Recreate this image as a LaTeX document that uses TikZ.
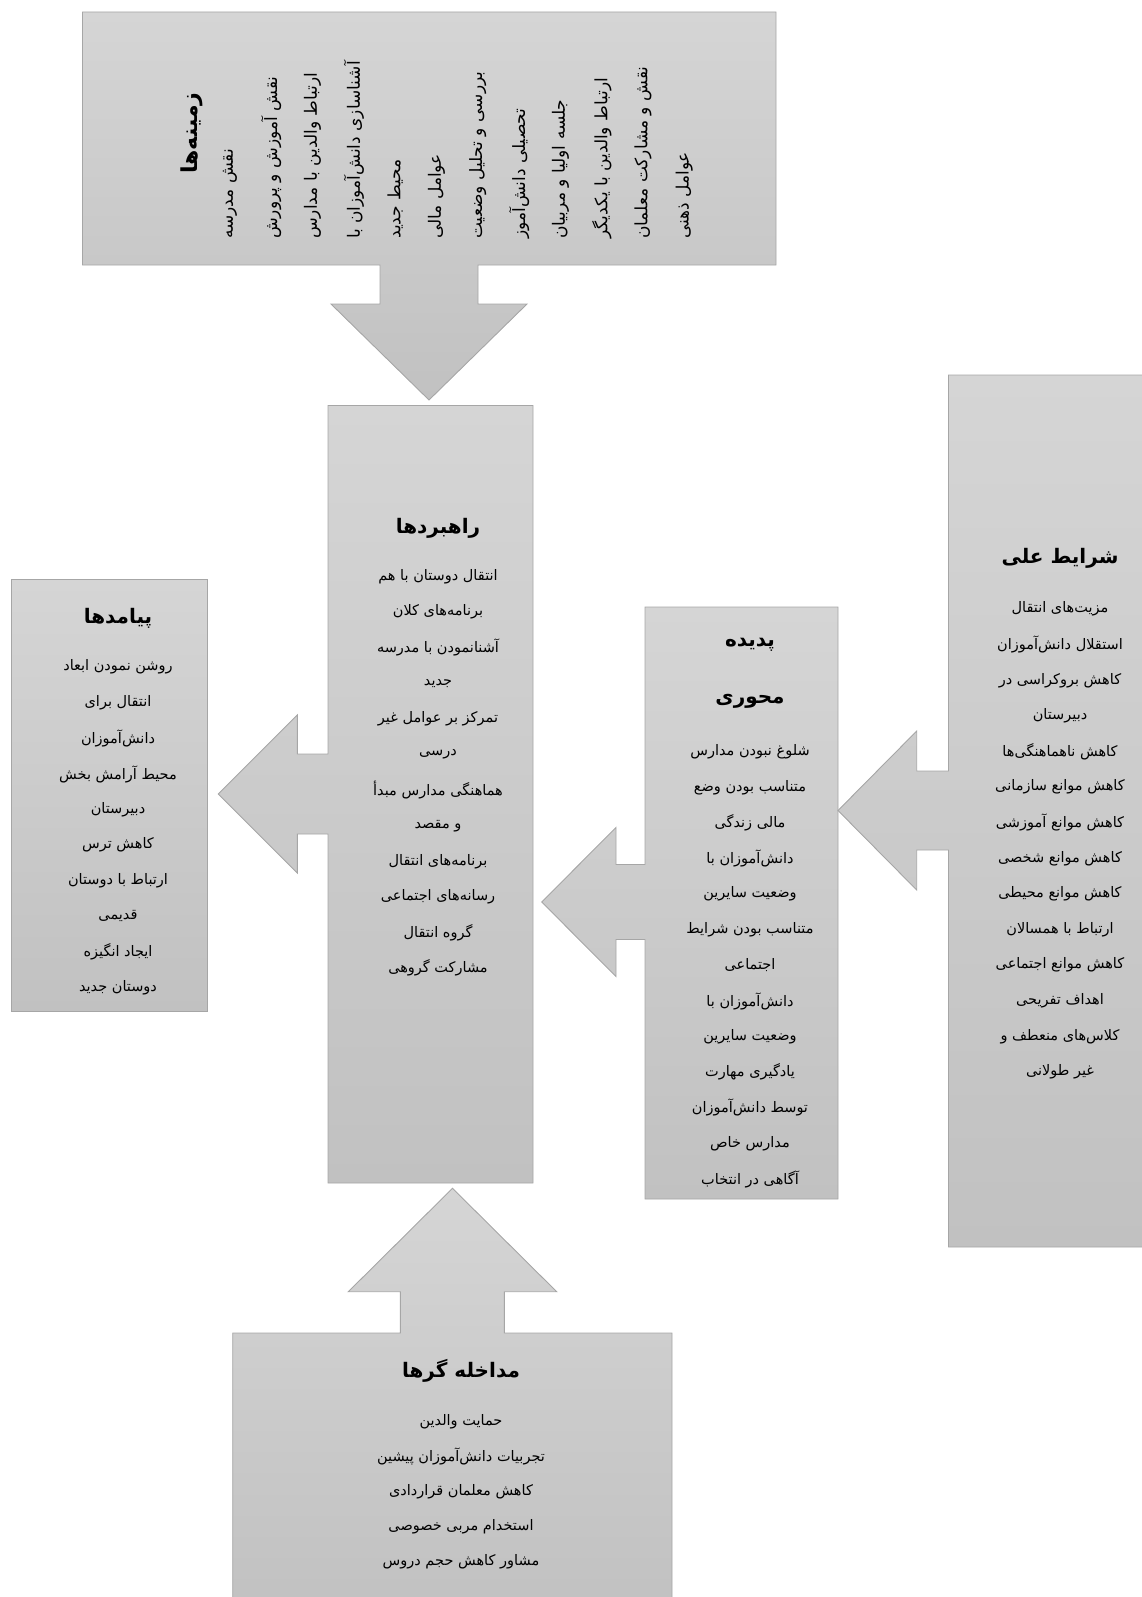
\documentclass[tikz,border=0pt]{standalone}
\usepackage{fontspec}
\newfontfamily\farsi[Script=Arabic]{DejaVu Sans}
\TeXXeTstate=1
\usetikzlibrary{calc}

\definecolor{shadeTop}{HTML}{D5D5D5}
\definecolor{shadeBot}{HTML}{C1C1C1}
\definecolor{edgeGray}{HTML}{A6A6A6}
\newcommand{\fa}[1]{\beginR#1\endR}

\begin{document}
\begin{tikzpicture}[x=1pt,y=-1pt,
  callout/.style={draw=edgeGray,line width=0.9pt,top color=shadeTop,bottom color=shadeBot},
  title/.style={font=\farsi\bfseries\fontsize{20}{24}\selectfont,inner sep=0pt},
  item/.style={font=\farsi\fontsize{14.5}{17}\selectfont,inner sep=0pt},
  vitem/.style={font=\farsi\fontsize{17}{20}\selectfont,inner sep=0pt,rotate=90,anchor=west}]
  \useasboundingbox (0,0) rectangle (1142,1597);
  %% Boxes together with their arrows
  \path[callout] (82.5,12) -| (776,265) -| (478,304) -- (527,304) -- (429,400) -- (331,304) -- (380,304) |- (82.5,265) -- cycle;
  \path[callout] (838,607) -| (645,864.5) -| (616,827.5) -- (541.7,902) -- (616,976.5) |- (645,939.5) |- (838,1199) -- cycle;
  \path[callout] (1160,375) -| (948.5,771) -| (916.7,731) -- (838,810.5) -- (916.7,890) |- (948.5,850) |- (1160,1247) -- cycle;
  \path[callout] (533,405.5) -| (328,754) -| (297.3,715) -- (218.3,794) -- (297.3,873) |- (328,834) |- (533,1183) -- cycle;
  \path[callout] (232.7,1610) |- (400.3,1333) |- (348.3,1291.7) -- (452.5,1188.3) -- (556.7,1291.7) -| (504.3,1333) -| (672,1610) -- cycle;
  \path[callout] (11.7,579.3) rectangle (207.3,1011.7);
  %% Contexts (rotated text)
  \node[title,font=\farsi\bfseries\fontsize{22}{26}\selectfont,rotate=90] (context-title) at (192,133) {\fa{زمینه‌ها}};
  \foreach \txt [count=\i] in {نقش مدرسه,نقش آموزش و پرورش,ارتباط والدین با مدارس,آشناسازی دانش‌آموزان با,محیط جدید,عوامل مالی,بررسی و تحلیل وضعیت,تحصیلی دانش‌آموز,جلسه اولیا و مربیان,ارتباط والدین با یکدیگر,نقش و مشارکت معلمان,عوامل ذهنی}{
    \node[vitem] (context-\i) at ({230+41.3*(\i-1)},239) {\fa{\txt}};
  }
  %% Causal conditions
  \node[title] (causal-title) at (1060,558) {\fa{شرایط علی}};
  \foreach \txt [count=\i] in {مزیت‌های انتقال,استقلال دانش‌آموزان,کاهش بروکراسی در,دبیرستان,کاهش ناهماهنگی‌ها,کاهش موانع سازمانی,کاهش موانع آموزشی,کاهش موانع شخصی,کاهش موانع محیطی,ارتباط با همسالان,کاهش موانع اجتماعی,اهداف تفریحی,کلاس‌های منعطف و,غیر طولانی}{
    \node[item] (causal-\i) at (1060,{609.2+35.6*(\i-1)}) {\fa{\txt}};
  }
  %% Core phenomenon
  \node[title] (core-title-1) at (750,645) {\fa{پدیده}};
  \node[title] (core-title-2) at (750,701) {\fa{محوری}};
  \foreach \txt [count=\i] in {شلوغ نبودن مدارس,متناسب بودن وضع,مالی زندگی,دانش‌آموزان با,وضعیت سایرین,متناسب بودن شرایط,اجتماعی,دانش‌آموزان با,وضعیت سایرین,یادگیری مهارت,توسط دانش‌آموزان,مدارس خاص,آگاهی در انتخاب}{
    \node[item] (core-\i) at (750,{751.8+35.6*(\i-1)}) {\fa{\txt}};
  }
  %% Strategies
  \node[title] (strategy-title) at (438,528) {\fa{راهبردها}};
  \foreach \txt [count=\i] in {انتقال دوستان با هم,برنامه‌های کلان,آشنانمودن با مدرسه,جدید,تمرکز بر عوامل غیر,درسی,هماهنگی مدارس مبدأ,و مقصد,برنامه‌های انتقال,رسانه‌های اجتماعی,گروه انتقال,مشارکت گروهی}{
    \node[item] (strategy-\i) at (438,{576.6+35.6*(\i-1)}) {\fa{\txt}};
  }
  %% Consequences
  \node[title] (outcome-title) at (118,618.4) {\fa{پیامدها}};
  \foreach \txt [count=\i] in {روشن نمودن ابعاد,انتقال برای,دانش‌آموزان,محیط آرامش بخش,دبیرستان,کاهش ترس,ارتباط با دوستان,قدیمی,ایجاد انگیزه,دوستان جدید}{
    \node[item] (outcome-\i) at (118,{667.2+35.6*(\i-1)}) {\fa{\txt}};
  }
  %% Intervening conditions
  \node[title] (interv-title) at (461,1371) {\fa{مداخله گرها}};
  \foreach \txt [count=\i] in {حمایت والدین,تجربیات دانش‌آموزان پیشین,کاهش معلمان قراردادی,استخدام مربی خصوصی,مشاور کاهش حجم دروس}{
    \node[item] (interv-\i) at (461,{1421.5+35*(\i-1)}) {\fa{\txt}};
  }
\end{tikzpicture}
\end{document}
